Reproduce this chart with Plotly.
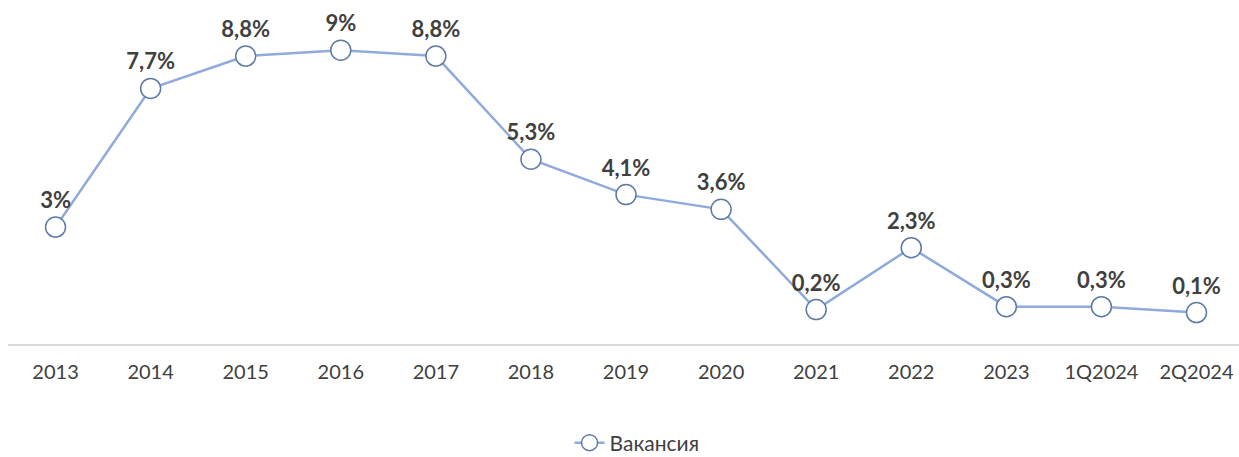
import plotly.graph_objects as go

categories = ["2013", "2014", "2015", "2016", "2017", "2018", "2019", "2020",
              "2021", "2022", "2023", "1Q2024", "2Q2024"]
values = [3.0, 7.7, 8.8, 9.0, 8.8, 5.3, 4.1, 3.6, 0.2, 2.3, 0.3, 0.3, 0.1]
labels = ["3%", "7,7%", "8,8%", "9%", "8,8%", "5,3%", "4,1%", "3,6%",
          "0,2%", "2,3%", "0,3%", "0,3%", "0,1%"]
series_name = "Вакансия"

fig = go.Figure()
fig.add_trace(go.Scatter(
    x=list(range(len(categories))), y=values, name=series_name,
    mode="lines+markers+text",
    text=labels, textposition="top center",
    textfont=dict(family="Lato", size=22, color="#404040", weight="bold"),
    line=dict(color="#8FAADC", width=2.5),
    marker=dict(size=20, color="white", line=dict(color="#5E7BA6", width=1.5)),
))

fig.update_layout(
    width=1239, height=457,
    margin=dict(l=8, r=0, t=0, b=112, autoexpand=False),
    plot_bgcolor="white", paper_bgcolor="white",
    font=dict(family="Lato", color="#404040"),
    showlegend=True,
    legend=dict(orientation="h", x=0.511, xanchor="center",
                yref="container", y=(457 - 443) / 457, yanchor="middle",
                font=dict(family="Lato", size=21, color="#404040")),
    xaxis=dict(
        range=[-0.5, 12.447], tickmode="array",
        tickvals=list(range(len(categories))), ticktext=categories,
        showgrid=False, zeroline=False, automargin=False,
        showline=False,
        ticks="outside", ticklen=9, tickcolor="rgba(0,0,0,0)",
        tickfont=dict(family="Lato", size=20, color="#404040"),
    ),
    yaxis=dict(range=[-1.0, 10.7], visible=False),
)
fig.add_shape(type="line", xref="paper", yref="paper", x0=0, x1=1, y0=0, y1=0,
              line=dict(color="#D9D9D9", width=2))

fig.write_html("out.html")
